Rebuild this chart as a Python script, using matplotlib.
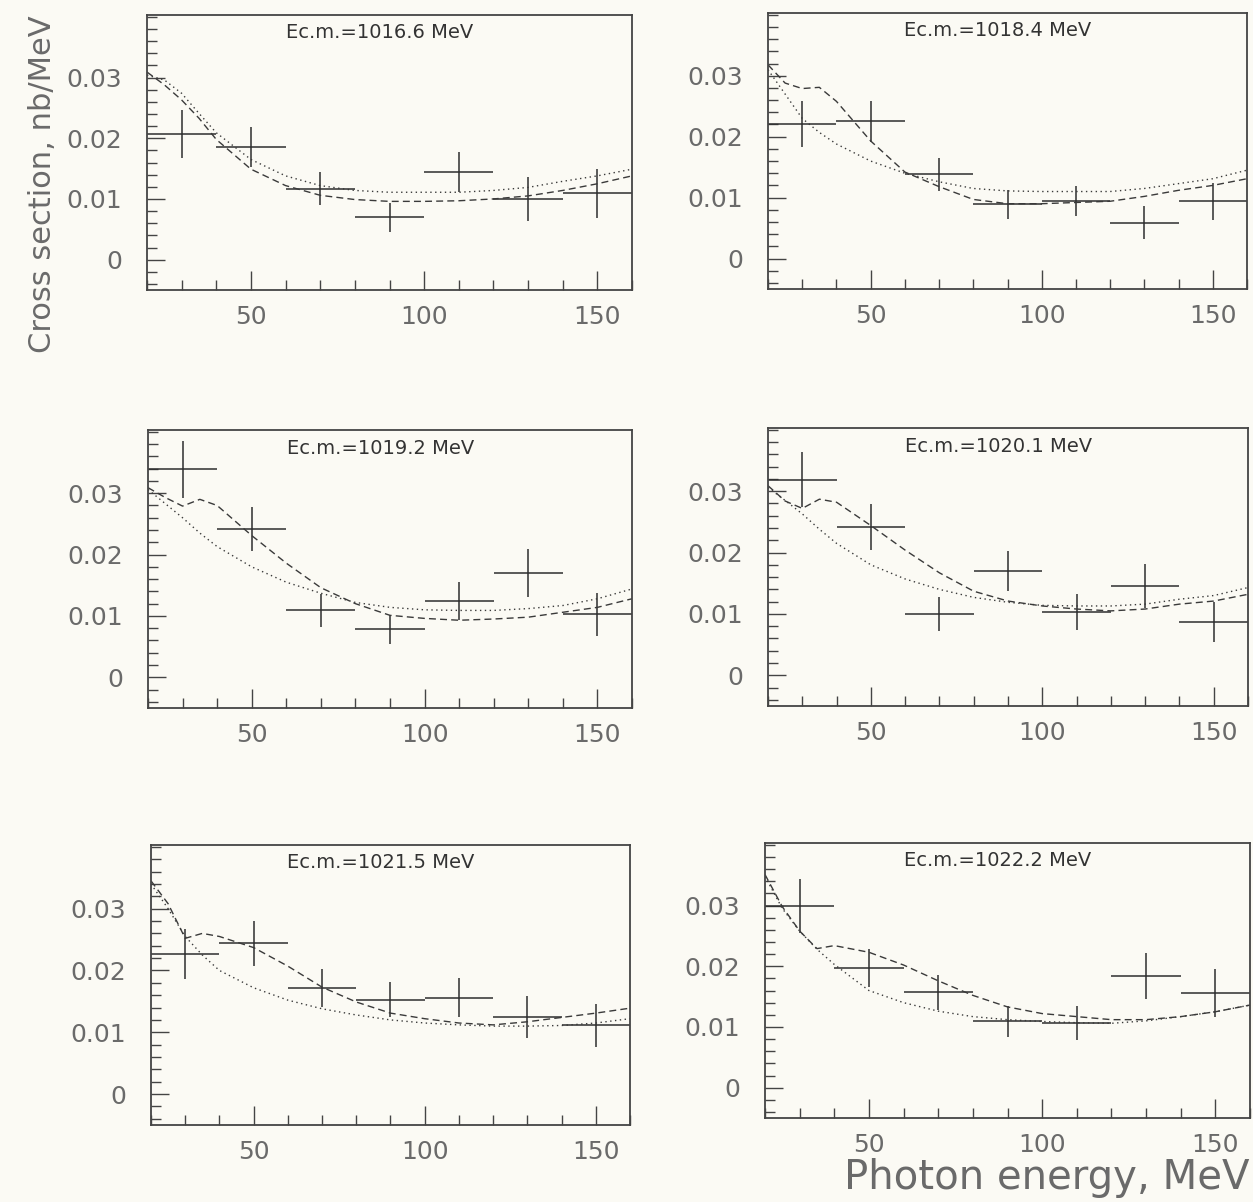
import matplotlib
matplotlib.use("Agg")
import matplotlib.pyplot as plt
from matplotlib.ticker import MultipleLocator

# beam energies of the six panels
energies = ["1016.6", "1018.4", "1019.2", "1020.1", "1021.5", "1022.2"]

# photon energy bins (MeV)
bin_centers = [30, 50, 70, 90, 110, 130, 150]
bin_half = [10, 10, 10, 10, 10, 10, 10]

# measured cross sections, nb/MeV, and errors
sigma = [
    [0.0207, 0.0185, 0.0117, 0.0070, 0.0145, 0.0100, 0.0109],
    [0.0221, 0.0225, 0.0138, 0.0089, 0.0094, 0.0059, 0.0094],
    [0.0339, 0.0242, 0.0109, 0.0078, 0.0125, 0.0170, 0.0103],
    [0.0319, 0.0242, 0.0100, 0.0170, 0.0103, 0.0145, 0.0087],
    [0.0227, 0.0244, 0.0172, 0.0153, 0.0156, 0.0124, 0.0111],
    [0.0299, 0.0197, 0.0157, 0.0109, 0.0106, 0.0184, 0.0156],
]
sigma_err = [
    [0.0040, 0.0033, 0.0027, 0.0024, 0.0033, 0.0036, 0.0040],
    [0.0038, 0.0034, 0.0027, 0.0024, 0.0025, 0.0027, 0.0030],
    [0.0046, 0.0036, 0.0027, 0.0024, 0.0031, 0.0039, 0.0035],
    [0.0045, 0.0037, 0.0028, 0.0032, 0.0029, 0.0036, 0.0033],
    [0.0040, 0.0036, 0.0031, 0.0028, 0.0032, 0.0034, 0.0035],
    [0.0045, 0.0032, 0.0029, 0.0026, 0.0028, 0.0038, 0.0039],
]

# model curves
curve_x = [20, 25, 30, 35, 40, 50, 60, 70, 80, 90, 100, 110, 120, 130, 140, 150, 160]
dotted = [
    [0.0304, 0.0296, 0.0274, 0.0241, 0.0209, 0.0165, 0.0138, 0.0122, 0.0114, 0.0111,
     0.0111, 0.0111, 0.0114, 0.0119, 0.0129, 0.0138, 0.0149],
    [0.0310, 0.0270, 0.0230, 0.0207, 0.0188, 0.0160, 0.0140, 0.0126, 0.0115, 0.0111,
     0.0110, 0.0110, 0.0110, 0.0115, 0.0123, 0.0131, 0.0145],
    [0.0306, 0.0283, 0.0260, 0.0235, 0.0213, 0.0180, 0.0155, 0.0137, 0.0122, 0.0114,
     0.0110, 0.0109, 0.0109, 0.0112, 0.0117, 0.0128, 0.0144],
    [0.0306, 0.0285, 0.0263, 0.0238, 0.0215, 0.0180, 0.0157, 0.0140, 0.0127, 0.0119,
     0.0114, 0.0113, 0.0113, 0.0116, 0.0124, 0.0130, 0.0143],
    [0.0340, 0.0300, 0.0255, 0.0225, 0.0200, 0.0172, 0.0152, 0.0138, 0.0128, 0.0120,
     0.0115, 0.0112, 0.0110, 0.0110, 0.0111, 0.0115, 0.0122],
    [0.0348, 0.0295, 0.0258, 0.0228, 0.0203, 0.0160, 0.0140, 0.0126, 0.0117, 0.0112,
     0.0109, 0.0107, 0.0106, 0.0110, 0.0117, 0.0125, 0.0136],
]
dashed = [
    [0.0309, 0.0288, 0.0263, 0.0233, 0.0198, 0.0149, 0.0122, 0.0106, 0.0099, 0.0096,
     0.0096, 0.0097, 0.0100, 0.0105, 0.0114, 0.0125, 0.0138],
    [0.0318, 0.0288, 0.0279, 0.0281, 0.0258, 0.0193, 0.0142, 0.0118, 0.0097, 0.0090,
     0.0090, 0.0092, 0.0094, 0.0102, 0.0112, 0.0120, 0.0131],
    [0.0309, 0.0293, 0.0279, 0.0290, 0.0280, 0.0231, 0.0186, 0.0146, 0.0120, 0.0101,
     0.0096, 0.0093, 0.0095, 0.0098, 0.0106, 0.0114, 0.0128],
    [0.0309, 0.0284, 0.0272, 0.0287, 0.0282, 0.0244, 0.0204, 0.0167, 0.0137, 0.0121,
     0.0113, 0.0108, 0.0105, 0.0108, 0.0116, 0.0121, 0.0132],
    [0.0345, 0.0308, 0.0252, 0.0260, 0.0255, 0.0237, 0.0207, 0.0173, 0.0149, 0.0131,
     0.0122, 0.0115, 0.0112, 0.0117, 0.0124, 0.0131, 0.0139],
    [0.0351, 0.0298, 0.0258, 0.0229, 0.0234, 0.0223, 0.0202, 0.0176, 0.0152, 0.0133,
     0.0122, 0.0117, 0.0112, 0.0112, 0.0117, 0.0125, 0.0136],
]

W, H = 1253, 1202
# panel boxes in pixels: left, right, top, bottom
boxes = [
    (147, 632, 15, 290), (768, 1247, 13, 289),
    (148, 632, 430, 708), (768, 1248, 428, 706),
    (151, 630, 845, 1125), (765, 1250, 843, 1118),
]

paper = "#fbfaf4"
ink = "#2e2e2e"
label_grey = "#6a6a6a"

fig = plt.figure(figsize=(W / 100, H / 100), dpi=100, facecolor=paper)

for i, (l, r, t, b) in enumerate(boxes):
    ax = fig.add_axes([l / W, 1 - b / H, (r - l) / W, (b - t) / H])
    ax.set_facecolor(paper)
    ax.errorbar(bin_centers, sigma[i], xerr=bin_half, yerr=sigma_err[i],
                fmt="none", ecolor=ink, elinewidth=1.1, capsize=0)
    ax.plot(curve_x, dotted[i], color="#3a3a3a", lw=1.0, ls=(0, (1, 2.5)))
    ax.plot(curve_x, dashed[i], color="#3a3a3a", lw=1.0, ls=(0, (5, 3)))
    ax.set_xlim(20, 160)
    ax.set_ylim(-0.005, 0.0403)
    ax.set_xticks([50, 100, 150])
    ax.set_xticklabels(["50", "100", "150"])
    ax.set_yticks([0, 0.01, 0.02, 0.03])
    ax.set_yticklabels(["0", "0.01", "0.02", "0.03"])
    ax.xaxis.set_minor_locator(MultipleLocator(10))
    ax.yaxis.set_minor_locator(MultipleLocator(0.002))
    ax.tick_params(which="both", direction="in", color="#444444", width=1.0,
                   top=False, right=False, labelcolor=label_grey, labelsize=18)
    ax.tick_params(axis="x", which="major", length=14, pad=11)
    ax.tick_params(axis="x", which="minor", length=7)
    ax.tick_params(axis="y", which="major", length=13, pad=18)
    ax.tick_params(axis="y", which="minor", length=7)
    for s in ax.spines.values():
        s.set_color("#444444")
        s.set_linewidth(1.3)
    ax.text(0.48, 1 - 18 / (b - t), "Ec.m.=" + energies[i] + " MeV",
            transform=ax.transAxes, ha="center", va="center",
            fontsize=14, color="#333333")

fig.text(43 / W, 1 - 184 / H, "Cross section, nb/MeV", rotation=90,
         ha="center", va="center", fontsize=22, color=label_grey)
fig.text(1250 / W, 1 - 1178 / H, "Photon energy, MeV",
         ha="right", va="center", fontsize=29, color=label_grey)

fig.savefig("out.png", dpi=100, facecolor=paper)
